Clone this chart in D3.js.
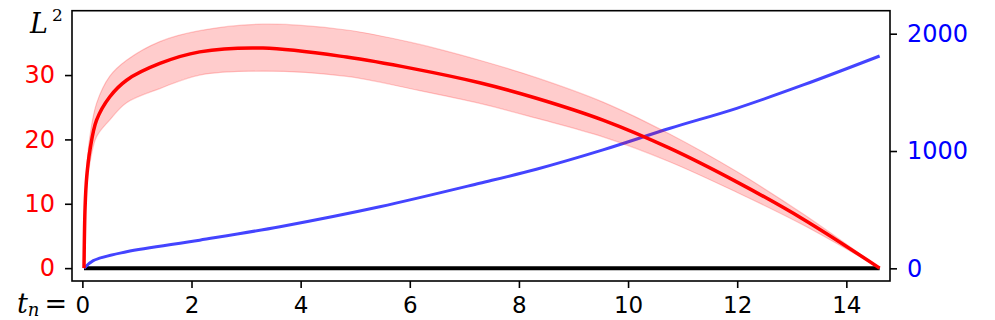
<!DOCTYPE html>
<html>
<head>
<meta charset="utf-8">
<script src="https://cdn.jsdelivr.net/npm/d3@7/dist/d3.min.js"></script>
<style>
  body { margin: 0; background: #fff; }
  svg { display: block; }
</style>
</head>
<body>
<div id="chart"></div>
<script>
// red curve (left axis): mean and band, sampled at tValues
const tValues  = [0.03, 0.05, 0.08, 0.14, 0.26, 0.50, 0.81, 1.42, 2.15, 3.31, 4.84, 6.06, 7.28, 8.32, 9.54, 10.77, 11.99, 13.21, 14.61]
const lossMean = [0,    9.5,  14.2, 18.4, 23.0, 26.6, 29.2, 31.8, 33.6, 34.2, 32.8, 31.0, 28.8, 26.4, 23.0, 18.6,  13.4,  7.6,   0]
const lossLow  = [0,    8.5,  12.6, 16.4, 20.4, 23.0, 25.7, 27.9, 30.0, 30.6, 29.8, 27.8, 25.6, 23.3, 20.4, 16.5,  11.8,  6.7,   0]
const lossHigh = [0,    10.5, 15.8, 20.6, 25.6, 29.8, 32.3, 35.2, 36.9, 37.9, 37.0, 35.0, 32.3, 29.6, 25.8, 20.8,  15.0,  8.4,   0]

// blue curve (right axis)
const blueT      = [0.03, 0.2, 0.81, 2.15, 3.62, 5.45, 7.28, 8.32, 9.54, 10.77, 11.99, 13.21, 14.61]
const blueValues = [0,    65,  141,  240,  355,  525,  725,  845,  1010, 1194,  1364,  1563,  1810]

const xTicks = [0, 2, 4, 6, 8, 10, 12, 14]
const leftTicks = [0, 10, 20, 30]
const rightTicks = [0, 1000, 2000]

const width = 995, height = 320
const plot = {left: 72, right: 890, top: 10.7, bottom: 281}

const x = d3.scaleLinear().domain([-0.19, 14.80]).range([plot.left, plot.right])
const yL = d3.scaleLinear().domain([-2, 40]).range([plot.bottom, plot.top])
const yR = d3.scaleLinear().domain([-108, 2196]).range([plot.bottom, plot.top])

const svg = d3.select('#chart').append('svg')
    .attr('width', width)
    .attr('height', height)

const lossRows = tValues.map((t, i) => ({t: t, m: lossMean[i], lo: lossLow[i], hi: lossHigh[i]}))
const blueRows = blueT.map((t, i) => ({t: t, v: blueValues[i]}))

svg.append('defs').append('clipPath').attr('id', 'clip')
    .append('rect')
    .attr('x', plot.left).attr('y', plot.top)
    .attr('width', plot.right - plot.left).attr('height', plot.bottom - plot.top)

const g = svg.append('g').attr('clip-path', 'url(#clip)')
const smooth = d3.curveCatmullRom.alpha(0.5)

// zero line
g.append('line')
    .attr('x1', x(tValues[0])).attr('x2', x(tValues[tValues.length - 1]))
    .attr('y1', yL(0)).attr('y2', yL(0))
    .attr('stroke', 'black')
    .attr('stroke-width', 4)

// blue line
g.append('path')
    .datum(blueRows)
    .attr('d', d3.line().x(d => x(d.t)).y(d => yR(d.v)).curve(smooth))
    .attr('fill', 'none')
    .attr('stroke', 'rgb(68,68,255)')
    .attr('stroke-width', 3)

// band
g.append('path')
    .datum(lossRows)
    .attr('d', d3.area().x(d => x(d.t)).y0(d => yL(d.lo)).y1(d => yL(d.hi)).curve(smooth))
    .attr('fill', 'rgba(255,0,0,0.2)')
    .attr('stroke', 'rgba(255,0,0,0.2)')
    .attr('stroke-width', 1.2)

// red mean line
g.append('path')
    .datum(lossRows)
    .attr('d', d3.line().x(d => x(d.t)).y(d => yL(d.m)).curve(smooth))
    .attr('fill', 'none')
    .attr('stroke', 'red')
    .attr('stroke-width', 3.5)

// axes
const tickFont = '"DejaVu Sans", sans-serif'

function styleAxis(sel, color, size) {
    sel.select('.domain').remove()
    sel.selectAll('.tick line').attr('stroke', 'black').attr('stroke-width', 1.6)
    sel.selectAll('.tick text')
        .attr('fill', color)
        .style('font-family', tickFont)
        .style('font-size', size + 'px')
}

svg.append('g')
    .attr('transform', `translate(0,${plot.bottom})`)
    .call(d3.axisBottom(x).tickValues(xTicks).tickSize(7).tickPadding(9))
    .call(s => styleAxis(s, 'black', 23))

svg.append('g')
    .attr('transform', `translate(${plot.left},0)`)
    .call(d3.axisLeft(yL).tickValues(leftTicks).tickSize(7).tickPadding(10))
    .call(s => styleAxis(s, 'red', 24))

svg.append('g')
    .attr('transform', `translate(${plot.right},0)`)
    .call(d3.axisRight(yR).tickValues(rightTicks).tickFormat(d3.format('d')).tickSize(7).tickPadding(10))
    .call(s => styleAxis(s, 'blue', 24))

// frame
svg.append('rect')
    .attr('x', plot.left).attr('y', plot.top)
    .attr('width', plot.right - plot.left).attr('height', plot.bottom - plot.top)
    .attr('fill', 'none')
    .attr('stroke', 'black')
    .attr('stroke-width', 1.6)

// labels
const serif = '"DejaVu Serif", serif'
const yLab = svg.append('text')
    .attr('x', 30).attr('y', 33)
    .style('font-family', serif)
    .style('font-size', '27px')
    .style('font-style', 'italic')
yLab.append('tspan').text('L')
yLab.append('tspan').attr('dx', 4).attr('dy', -12).style('font-size', '17px').style('font-style', 'normal').text('2')

const xLab = svg.append('text')
    .attr('x', 17).attr('y', 313)
    .style('font-family', serif)
    .style('font-size', '27px')
xLab.append('tspan').style('font-style', 'italic').text('t')
xLab.append('tspan').attr('dy', 3).style('font-style', 'italic').style('font-size', '18px').text('n')
xLab.append('tspan').attr('dx', 5).attr('dy', -3).text('=')
</script>
</body>
</html>
